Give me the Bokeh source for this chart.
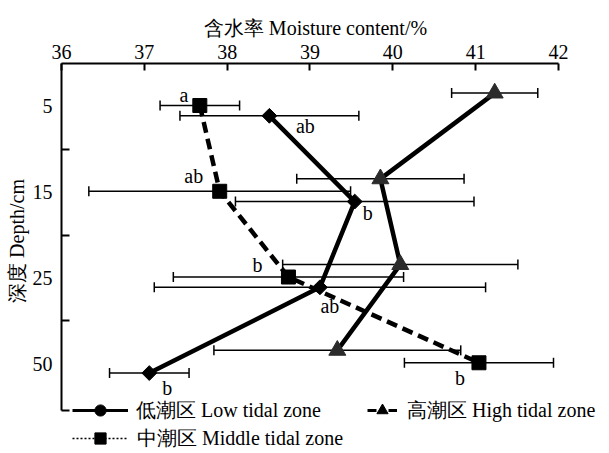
import numpy as np
from bokeh.plotting import figure
from bokeh.models import (ColumnDataSource, Whisker, TeeHead, Range1d, FixedTicker,
                          Legend, LegendItem)
from bokeh.core.properties import value
from bokeh.embed import file_html
from bokeh.resources import INLINE

# ---------------- data ----------------
depth_labels = ["5", "15", "25", "50"]
depth_pos = [1, 2, 3, 4]

low_mean = [38.51, 39.54, 39.12, 37.06]
low_err = [1.08, 1.44, 2.00, 0.48]
mid_mean = [37.67, 37.91, 38.74, 41.04]
mid_err = [0.48, 1.58, 1.39, 0.90]
high_mean = [41.23, 39.85, 40.09, 39.33]
high_err = [0.52, 1.01, 1.42, 1.49]

low_letters = ["ab", "b", "ab", "b"]
mid_letters = ["a", "ab", "b", "b"]

x_title = "含水率 Moisture content/%"
y_title = "深度 Depth/cm"
series_names = ["低潮区 Low tidal zone", "高潮区 High tidal zone", "中潮区 Middle tidal zone"]

# ---------------- style ----------------
FONT = "Liberation Serif"
FS = "20px"
NB = "\u00a0"
off_low, off_mid, off_high = 0.11, -0.01, -0.155
low_dx = [36, 13, 10, 18]
low_dy = [10, 11, 19, 15]
mid_dx = [-16, -26, -31, -19]
mid_dy = [-11, -15, -12, 15]


def make_src(mean, err, off):
    y = [d + off for d in depth_pos]
    return ColumnDataSource(dict(x=mean, y=y,
                                 lower=[m - e for m, e in zip(mean, err)],
                                 upper=[m + e for m, e in zip(mean, err)]))


# frame reaches the bottom/right of the canvas so the legend (drawn inside) is not clipped
p = figure(width=609, height=453, output_backend="svg", toolbar_location=None,
           x_range=Range1d(36, 42.616), y_range=Range1d(5.048, 0.5),
           x_axis_location="above",
           min_border_left=61, min_border_right=0, min_border_top=63, min_border_bottom=0)
p.outline_line_color = None
p.grid.visible = False

# x axis (top)
xa = p.xaxis[0]
xa.bounds = (36, 42)
xa.ticker = FixedTicker(ticks=[36, 37, 38, 39, 40, 41, 42])
xa.axis_label = x_title + NB * 8
xa.axis_line_width = 2
xa.axis_line_color = "black"
xa.major_tick_line_width = 2
xa.major_tick_line_color = "black"
xa.major_tick_in = 7
xa.major_tick_out = 0
xa.minor_tick_line_color = None
xa.major_label_text_font = FONT
xa.major_label_text_font_size = FS
xa.major_label_text_color = "black"
xa.major_label_standoff = 5
xa.axis_label_text_font = FONT
xa.axis_label_text_font_size = FS
xa.axis_label_text_color = "black"
xa.axis_label_text_font_style = "normal"
xa.axis_label_standoff = 3

# y axis (left)
ya = p.yaxis[0]
ya.bounds = (0.5, 4.55)
ya.ticker = FixedTicker(ticks=depth_pos, minor_ticks=[1.5, 2.5, 3.5, 4.55])
ya.major_label_overrides = {pos: lab for pos, lab in zip(depth_pos, depth_labels)}
ya.axis_label = NB * 7 + y_title
ya.axis_line_width = 2
ya.axis_line_color = "black"
ya.major_tick_in = 0
ya.major_tick_out = 0
ya.minor_tick_in = 8
ya.minor_tick_out = 0
ya.minor_tick_line_width = 2
ya.minor_tick_line_color = "black"
ya.major_label_text_font = FONT
ya.major_label_text_font_size = FS
ya.major_label_text_color = "black"
ya.major_label_standoff = 9
ya.axis_label_text_font = FONT
ya.axis_label_text_font_size = FS
ya.axis_label_text_color = "black"
ya.axis_label_text_font_style = "normal"
ya.axis_label_standoff = 2

src_low = make_src(low_mean, low_err, off_low)
src_mid = make_src(mid_mean, mid_err, off_mid)
src_high = make_src(high_mean, high_err, off_high)

for s in (src_high, src_mid, src_low):
    w = Whisker(source=s, base="y", lower="lower", upper="upper", dimension="width",
                line_width=1.5, line_color="black", level="underlay",
                upper_head=TeeHead(size=10, line_width=1.5, line_color="black"),
                lower_head=TeeHead(size=10, line_width=1.5, line_color="black"))
    p.add_layout(w)

p.line("x", "y", source=src_high, line_width=4.5, line_color="black")
p.line("x", "y", source=src_low, line_width=4.5, line_color="black")
p.line("x", "y", source=src_mid, line_width=4.5, line_color="black", line_dash="11 6")

p.scatter("x", "y", source=src_high, marker="triangle", size=17,
          fill_color="#2b2b2b", line_color="#2b2b2b")
p.scatter("x", "y", source=src_low, marker="square", size=10.5, angle=np.pi / 4,
          fill_color="black", line_color="black")
p.scatter("x", "y", source=src_mid, marker="square", size=14,
          fill_color="black", line_color="black")

# significance letters
lab_low = ColumnDataSource(dict(x=low_mean, y=[d + off_low for d in depth_pos],
                                t=low_letters, dx=low_dx, dy=low_dy))
lab_mid = ColumnDataSource(dict(x=mid_mean, y=[d + off_mid for d in depth_pos],
                                t=mid_letters, dx=mid_dx, dy=mid_dy))
for s in (lab_low, lab_mid):
    p.text("x", "y", text="t", source=s, x_offset="dx", y_offset="dy",
           text_font=value(FONT), text_font_size=FS, text_align="center",
           text_baseline="middle", text_color="black")

# legend-only renderers (a single NaN point: nothing drawn in the plot)
nan = dict(x=[np.nan], y=[np.nan])
l_low = p.line(x="x", y="y", source=ColumnDataSource(nan), line_width=3, line_color="black")
m_low = p.scatter(x="x", y="y", source=ColumnDataSource(nan), marker="circle",
                  fill_color="black", line_color="black")
l_high = p.line(x="x", y="y", source=ColumnDataSource(nan), line_width=3,
                line_color="black", line_dash="9 12")
m_high = p.scatter(x="x", y="y", source=ColumnDataSource(nan), marker="triangle",
                   fill_color="black", line_color="black")
l_mid = p.line(x="x", y="y", source=ColumnDataSource(nan), line_width=1.5,
               line_color="black", line_dash="2 2")
m_mid = p.scatter(x="x", y="y", source=ColumnDataSource(nan), marker="square",
                  fill_color="black", line_color="black")


def mk_legend(name, rends, gw, standoff, loc):
    lg = Legend(items=[LegendItem(label=name, renderers=rends, index=0)], location=loc,
                glyph_width=gw, glyph_height=28, label_standoff=standoff,
                padding=0, margin=0, spacing=0,
                background_fill_alpha=0, border_line_alpha=0,
                label_text_font=FONT, label_text_font_size=FS, label_text_color="black",
                label_height=20)
    p.add_layout(lg)


mk_legend(series_names[0], [l_low, m_low], 56, 8, (11, 29))
mk_legend(series_names[1], [l_high, m_high], 30, 10, (306, 29))
mk_legend(series_names[2], [l_mid, m_mid], 56, 9, (11, 1))

open("out.html", "w").write(file_html(p, INLINE))
